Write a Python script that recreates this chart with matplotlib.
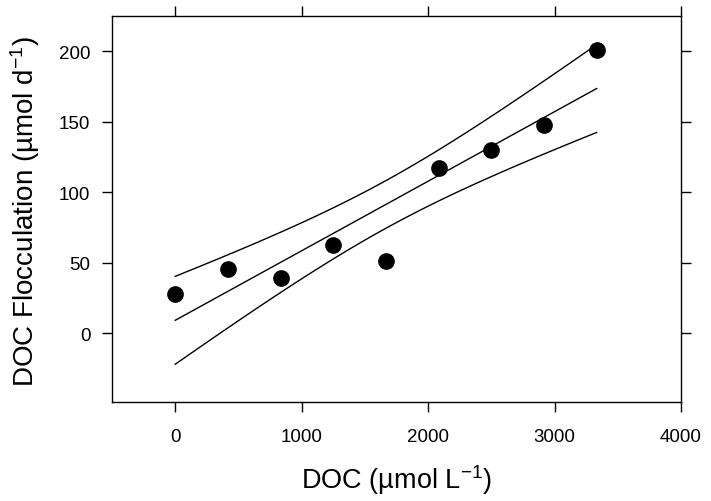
import numpy as np
import matplotlib
matplotlib.use("Agg")
import matplotlib.pyplot as plt

plt.rcParams['font.family'] = ['Liberation Sans', 'DejaVu Sans']
plt.rcParams['mathtext.fontset'] = 'custom'
plt.rcParams['mathtext.rm'] = 'Liberation Sans'
plt.rcParams['mathtext.it'] = 'Liberation Sans:italic'

# values
doc = np.array([0, 417, 833, 1250, 1667, 2083, 2500, 2917, 3333])
flocc = np.array([28.0, 45.6, 39.0, 62.6, 51.2, 116.9, 130.1, 147.6, 200.9])

# linear regression with 95% confidence band
n = len(doc)
slope, intercept = np.polyfit(doc, flocc, 1)
xfit = np.linspace(doc.min(), doc.max(), 100)
yfit = intercept + slope * xfit
resid = flocc - (intercept + slope * doc)
s = np.sqrt((resid ** 2).sum() / (n - 2))
t = 2.365
sxx = ((doc - doc.mean()) ** 2).sum()
half = t * s * np.sqrt(1.0 / n + (xfit - doc.mean()) ** 2 / sxx)

fig = plt.figure(figsize=(7.11, 5.02), dpi=100)
ax = fig.add_axes([0.1575, 0.197, 0.8003, 0.769])

ax.plot(xfit, yfit, color='black', lw=1.0)
ax.plot(xfit, yfit + half, color='black', lw=1.0)
ax.plot(xfit, yfit - half, color='black', lw=1.0)
ax.plot(doc, flocc, 'o', color='black', ms=11, zorder=3)

ax.set_xlim(-500, 4000)
ax.set_ylim(-49, 225)
ax.set_xticks([0, 1000, 2000, 3000, 4000])
ax.set_yticks([0, 50, 100, 150, 200])
ax.tick_params(direction='out', length=7, width=1.0, labelsize=13.5,
               top=True, right=True)
ax.tick_params(axis='x', pad=12)
ax.tick_params(axis='y', pad=8.5)
for sp in ax.spines.values():
    sp.set_linewidth(1.0)

ax.set_xlabel('DOC (\u00b5mol L$^{\\mathrm{-1}}$)', fontsize=19.5, va='center')
ax.set_ylabel('DOC Flocculation (\u00b5mol d$^{\\mathrm{-1}}$)', fontsize=20, va='center')
ax.xaxis.set_label_coords(0.5, -0.2)
ax.yaxis.set_label_coords(-0.153, 0.497)

fig.savefig('out.png', dpi=100)
